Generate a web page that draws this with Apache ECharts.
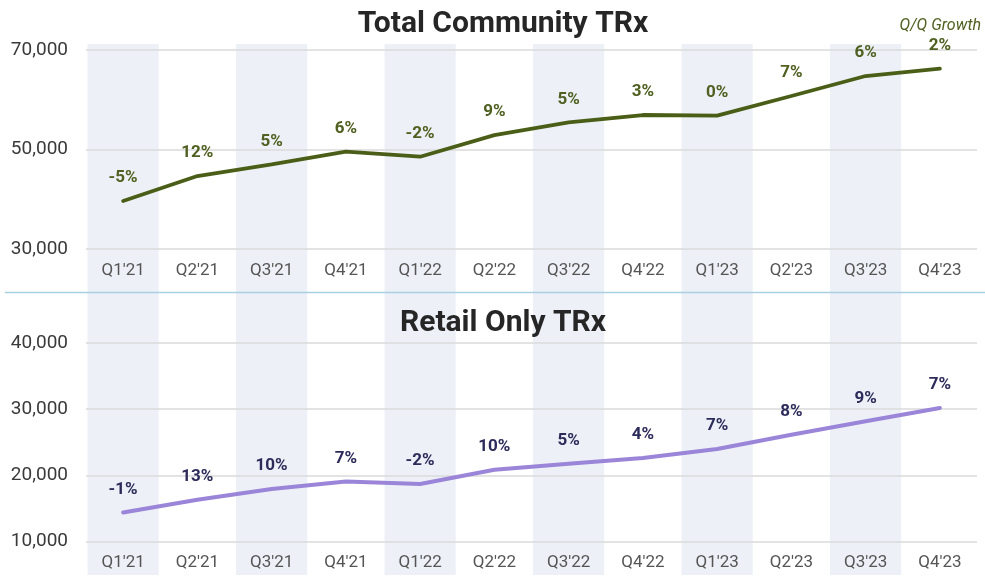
<!DOCTYPE html>
<html>
<head>
<meta charset="utf-8">
<script src="https://cdn.jsdelivr.net/npm/echarts@6/dist/echarts.min.js"></script>
<style>
html,body{margin:0;padding:0;background:#fff;}
#c{width:985px;height:577px;}
</style>
</head>
<body>
<div id="c"></div>
<script>
var categories = ["Q1'21","Q2'21","Q3'21","Q4'21","Q1'22","Q2'22","Q3'22","Q4'22","Q1'23","Q2'23","Q3'23","Q4'23"];
var totalTRx = [39650, 44670, 47020, 49560, 48550, 52900, 55460, 56930, 56800, 60750, 64770, 66240];
var totalGrowth = ["-5%","12%","5%","6%","-2%","9%","5%","3%","0%","7%","6%","2%"];
var retailTRx = [14390, 16310, 17930, 19080, 18680, 20850, 21760, 22620, 23980, 26140, 28160, 30180];
var retailGrowth = ["-1%","13%","10%","7%","-2%","10%","5%","4%","7%","8%","9%","7%"];
var shadedBands = [1,0,1,0,1,0,1,0,1,0,1,0];
var totalTicks = {min:30000, max:70000, interval:20000};
var retailTicks = {min:10000, max:40000, interval:10000};

var FONT = 'Roboto';
var chart = echarts.init(document.getElementById('c'), null, {renderer:'canvas'});

function xAx(gi, show){
  return {
    type:'category', gridIndex:gi, data:categories, boundaryGap:true, show:show,
    axisLine:{show:false}, axisTick:{show:false},
    axisLabel:{color:'#555555', fontSize:17, fontFamily:FONT, margin:13}
  };
}
function yAx(gi, t){
  return {
    type:'value', gridIndex:gi, min:t.min, max:t.max, interval:t.interval,
    axisLine:{show:false}, axisTick:{show:false},
    axisLabel:{color:'#3a3a3a', fontSize:19, fontFamily:FONT, margin:18,
      formatter:function(v){return v.toLocaleString('en-US');}},
    splitLine:{lineStyle:{color:'#dadada', width:1.5}}
  };
}

var option = {
  animation:false,
  backgroundColor:'#ffffff',
  grid:[
    {left:86, right:8, top:50, height:199},
    {left:86, right:8, top:343, height:198.5},
    {left:86, right:8, top:44, height:531}
  ],
  xAxis:[xAx(0,true), xAx(1,true), xAx(2,false)],
  yAxis:[yAx(0,totalTicks), yAx(1,retailTicks),
    {type:'value', gridIndex:2, min:0, max:1, show:false, splitLine:{show:false}}],
  graphic:[
    {type:'line', shape:{x1:5,y1:292.5,x2:985,y2:292.5}, style:{stroke:'#a9cfe3', lineWidth:1.5}, z:10},
    {type:'text', x:503, y:24, style:{text:'Total Community TRx', fill:'#262626', font:'bold 30px Roboto', textAlign:'center', textVerticalAlign:'middle'}},
    {type:'text', x:503, y:323, style:{text:'Retail Only TRx', fill:'#262626', font:'bold 30px Roboto', textAlign:'center', textVerticalAlign:'middle'}},
    {type:'text', x:981, y:26, style:{text:'Q/Q Growth', fill:'#4f6020', font:'italic 16px Roboto', textAlign:'right', textVerticalAlign:'middle'}}
  ],
  series:[
    {type:'bar', xAxisIndex:2, yAxisIndex:2, data:shadedBands, barWidth:'96%', z:-1, silent:true,
      itemStyle:{color:'#edf1f7'}},
    {type:'line', xAxisIndex:0, yAxisIndex:0, data:totalTRx, z:5,
      symbol:'circle', symbolSize:1, showSymbol:true,
      lineStyle:{color:'#4b5e17', width:3.8, cap:'round'}, itemStyle:{color:'#4b5e17'},
      label:{show:true, position:'top', distance:14, color:'#4f6020', fontSize:17, fontWeight:'bold', fontFamily:FONT,
        formatter:function(p){return totalGrowth[p.dataIndex];}}},
    {type:'line', xAxisIndex:1, yAxisIndex:1, data:retailTRx, z:5,
      symbol:'circle', symbolSize:1, showSymbol:true,
      lineStyle:{color:'#9a85d8', width:4, cap:'round'}, itemStyle:{color:'#9a85d8'},
      label:{show:true, position:'top', distance:14, color:'#2d2b5a', fontSize:17, fontWeight:'bold', fontFamily:FONT,
        formatter:function(p){return retailGrowth[p.dataIndex];}}}
  ]
};
chart.setOption(option);
</script>
</body>
</html>
